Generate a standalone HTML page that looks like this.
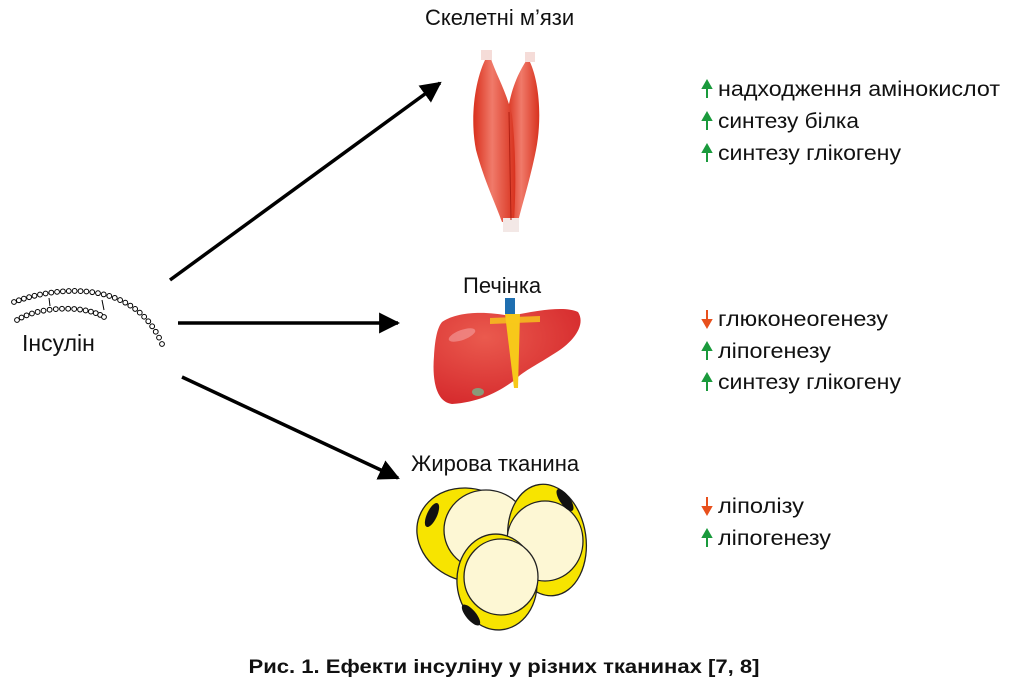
<!DOCTYPE html>
<html><head><meta charset="utf-8"><style>
html,body{margin:0;padding:0;background:#fff;width:1009px;height:685px;overflow:hidden}
svg{display:block}
text{font-family:"Liberation Sans",sans-serif;fill:#111}
</style></head><body>
<svg id="s" width="1009" height="685" viewBox="0 0 1009 685" xmlns="http://www.w3.org/2000/svg">
<defs>
<marker id="ah" viewBox="0 0 10 10" refX="9" refY="5" markerWidth="6" markerHeight="6" orient="auto"><path d="M0,0 L10,5 L0,10 Z" fill="#000"/></marker>
<linearGradient id="mg" x1="0" x2="1"><stop offset="0" stop-color="#d9301c"/><stop offset="0.45" stop-color="#f07a6a"/><stop offset="1" stop-color="#d8321e"/></linearGradient>
<radialGradient id="lg" cx="0.35" cy="0.3" r="0.8"><stop offset="0" stop-color="#ea5a4e"/><stop offset="1" stop-color="#d4262a"/></radialGradient>
</defs>
<g id="chain"></g>
<line x1="102" y1="300" x2="104" y2="310" stroke="#000" stroke-width="1"/>
<line x1="49" y1="298" x2="50" y2="306" stroke="#000" stroke-width="1"/>
<text x="22" y="351" font-size="23">Інсулін</text>

<line x1="170" y1="280" x2="440" y2="83" stroke="#000" stroke-width="3.5" marker-end="url(#ah)"/>
<line x1="178" y1="323" x2="398" y2="323" stroke="#000" stroke-width="3.5" marker-end="url(#ah)"/>
<line x1="182" y1="377" x2="398" y2="478" stroke="#000" stroke-width="3.5" marker-end="url(#ah)"/>

<text x="425" y="25" font-size="22">Скелетні м’язи</text>
<text x="463" y="293" font-size="22">Печінка</text>
<text x="411" y="471" font-size="22">Жирова тканина</text>

<!-- muscle -->
<path d="M528,58 C540,80 542,120 536,150 C530,180 522,205 518,222 L508,222 C506,190 506,150 508,110 C512,85 520,70 528,58 Z" fill="url(#mg)"/>
<path d="M487,56 C474,80 470,120 476,150 C484,180 496,205 502,222 L514,222 C516,190 516,150 512,115 C506,90 496,75 490,56 Z" fill="url(#mg)"/>
<rect x="503" y="218" width="16" height="14" fill="#f3e8e6"/>
<rect x="481" y="50" width="11" height="10" fill="#f5dcd8"/>
<rect x="525" y="52" width="10" height="10" fill="#f5dcd8"/>
<line x1="509" y1="112" x2="511" y2="220" stroke="#b02014" stroke-width="1"/>

<!-- liver -->
<rect x="505" y="298" width="10" height="16" fill="#1f6fb0"/>
<path d="M442,322 C460,310 490,312 510,316 C540,310 565,306 578,312 C586,324 575,342 552,355 C535,366 522,372 515,380 C498,392 480,402 452,404 C436,402 432,380 434,356 C435,340 437,328 442,322 Z" fill="url(#lg)"/>
<path d="M505,314 L520,314 L518,388 L514,388 Z" fill="#f7c81a"/>
<path d="M490,318 L540,316 L540,322 L490,324Z" fill="#f7c81a" opacity="0.8"/>
<ellipse cx="478" cy="392" rx="6" ry="4" fill="#8a9a7a"/>
<ellipse cx="462" cy="335" rx="14" ry="5" fill="#f5a0a0" opacity="0.6" transform="rotate(-20 462 335)"/>

<!-- fat cells -->
<g stroke="#222" stroke-width="1.3">
<ellipse cx="470" cy="535" rx="54" ry="46" fill="#f7e400" transform="rotate(20 470 535)"/>
<ellipse cx="486" cy="530" rx="42" ry="40" fill="#fdf7d4"/>
<ellipse cx="547" cy="540" rx="39" ry="56" fill="#f7e400" transform="rotate(-8 547 540)"/>
<ellipse cx="545" cy="541" rx="38" ry="40" fill="#fdf7d4"/>
<ellipse cx="497" cy="582" rx="40" ry="48" fill="#f7e400" transform="rotate(-5 497 582)"/>
<ellipse cx="501" cy="577" rx="37" ry="38" fill="#fdf7d4"/>
</g>
<ellipse cx="432" cy="515" rx="5" ry="13" fill="#111" transform="rotate(25 432 515)"/>
<ellipse cx="565" cy="500" rx="5" ry="13" fill="#111" transform="rotate(-35 565 500)"/>
<ellipse cx="471" cy="615" rx="5" ry="13" fill="#111" transform="rotate(-40 471 615)"/>

<!-- lists -->
<g font-size="21">
<text x="718" y="96" textLength="282" lengthAdjust="spacingAndGlyphs">надходження амінокислот</text>
<text x="718" y="128" textLength="141" lengthAdjust="spacingAndGlyphs">синтезу білка</text>
<text x="718" y="160" textLength="183" lengthAdjust="spacingAndGlyphs">синтезу глікогену</text>
<text x="718" y="326" textLength="170" lengthAdjust="spacingAndGlyphs">глюконеогенезу</text>
<text x="718" y="358" textLength="113" lengthAdjust="spacingAndGlyphs">ліпогенезу</text>
<text x="718" y="389" textLength="183" lengthAdjust="spacingAndGlyphs">синтезу глікогену</text>
<text x="718" y="513" textLength="86" lengthAdjust="spacingAndGlyphs">ліполізу</text>
<text x="718" y="545" textLength="113" lengthAdjust="spacingAndGlyphs">ліпогенезу</text>
</g>
<g id="arrows"></g>
<text x="504" y="673" font-size="19" font-weight="bold" text-anchor="middle" textLength="511" lengthAdjust="spacingAndGlyphs">Рис. 1. Ефекти інсуліну у різних тканинах [7, 8]</text>
</svg>
<script>
var ns="http://www.w3.org/2000/svg",ch=document.getElementById("chain");
function bez(p,t){var u=1-t;return[u*u*u*p[0]+3*u*u*t*p[2]+3*u*t*t*p[4]+t*t*t*p[6],u*u*u*p[1]+3*u*u*t*p[3]+3*u*t*t*p[5]+t*t*t*p[7]];}
function chain(p,n){for(var i=0;i<n;i++){var q=bez(p,i/(n-1));var c=document.createElementNS(ns,"circle");c.setAttribute("cx",q[0]);c.setAttribute("cy",q[1]);c.setAttribute("r",2.4);c.setAttribute("fill","#fff");c.setAttribute("stroke","#000");c.setAttribute("stroke-width","1");ch.appendChild(c);}}
chain([14,302,60,285,135,280,162,344],30);
chain([17,320,40,306,85,305,104,317],17);
var ar=document.getElementById("arrows");
function arr(y,up){var c=up?"#1a9a3c":"#e8501c";var x=707;var l=document.createElementNS(ns,"path");
var d=up?"M"+x+","+(y+9)+" L"+x+","+(y-4)+" M"+(x-4)+","+(y-1)+" L"+x+","+(y-8)+" L"+(x+4)+","+(y-1)+" Z":"M"+x+","+(y-9)+" L"+x+","+(y+4)+" M"+(x-4)+","+(y+1)+" L"+x+","+(y+8)+" L"+(x+4)+","+(y+1)+" Z";
l.setAttribute("d",d);l.setAttribute("stroke",c);l.setAttribute("stroke-width","2");l.setAttribute("fill",c);ar.appendChild(l);}
[[89,1],[121,1],[153,1],[319,0],[351,1],[382,1],[506,0],[538,1]].forEach(function(a){arr(a[0],a[1]);});
</script>
</body></html>
